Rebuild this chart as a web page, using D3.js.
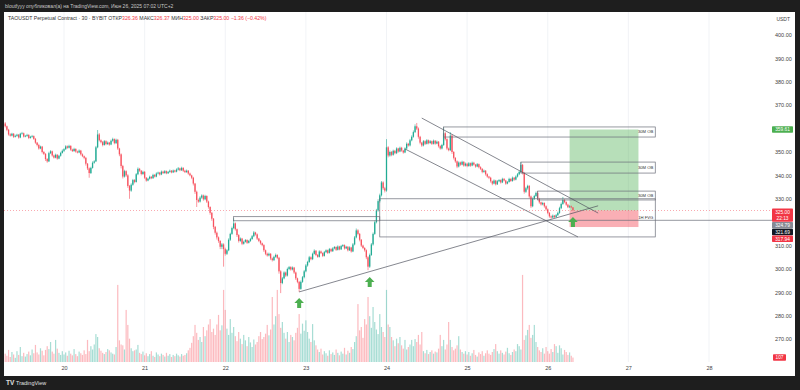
<!DOCTYPE html>
<html>
<head>
<meta charset="utf-8">
<script src="https://cdn.jsdelivr.net/npm/d3@7"></script>
<style>
  html, body { margin: 0; padding: 0; background: #1e1e1e; }
  svg { display: block; font-family: "Liberation Sans", Arial, sans-serif; }
</style>
</head>
<body>
<svg id="chart" width="800" height="390"></svg>
<script>
// 30m candles, TAOUSDT, one array per day: [close, upper wick, lower wick]
const firstOpen = 362.2;
const firstTime = "2025-06-19T06:30:00Z";
const jun19 = [[361.0,0.6,0.5],[359.5,0.3,0.6],[357.5,0.4,0.5],[357.0,0.5,0.4],[357.8,0.4,0.3],[356.5,0.3,0.5],[356.9,0.5,0.3],[357.4,0.4,0.4],[356.2,0.3,0.5],[357.8,0.4,0.3],[358.0,0.6,0.4],[356.6,0.3,0.4],[356.9,0.4,0.3],[357.3,0.5,0.4],[356.0,0.3,0.5],[356.5,0.4,0.3],[356.8,0.5,0.4],[355.6,0.3,0.4],[354.0,0.4,0.5],[353.0,0.3,0.6],[351.5,0.5,0.5],[352.3,0.4,0.3],[350.0,0.3,0.6],[349.2,0.4,0.5],[347.0,0.3,0.8],[346.0,0.4,0.6],[349.5,0.6,0.3],[350.3,0.5,0.4],[348.5,0.3,0.5],[347.6,0.4,0.4],[348.8,0.5,0.3],[347.2,0.3,0.5],[348.4,0.4,0.3],[349.6,0.5,0.4],[350.5,0.6,0.3]];
const jun20 = [[351.2,0.4,0.5],[352.4,0.5,0.3],[351.8,0.4,0.4],[352.6,0.5,0.3],[351.0,0.3,0.5],[350.4,0.4,0.4],[351.3,0.5,0.3],[350.2,0.3,0.5],[349.8,0.4,0.4],[350.6,0.5,0.3],[349.0,0.3,0.5],[348.2,0.4,0.4],[347.5,0.3,0.6],[345.0,0.4,0.8],[343.0,0.3,0.7],[341.0,0.4,2.0],[343.2,0.5,0.4],[345.4,0.6,0.3],[346.0,0.5,0.4],[352.0,0.6,0.3],[357.5,1.9,0.4],[355.0,0.6,0.5],[354.2,0.4,0.5],[353.0,0.5,0.6],[354.6,0.5,0.3],[353.4,0.4,0.5],[354.0,0.5,0.4],[353.2,0.3,0.5],[354.8,0.5,0.3],[355.5,0.6,0.4],[353.8,0.3,0.5],[355.2,0.5,0.4],[351.5,0.4,0.6],[349.0,0.3,0.8],[344.0,0.4,1.0],[339.5,0.5,0.8],[341.8,0.6,0.4],[340.0,0.4,0.6],[335.5,0.5,0.8],[333.5,0.4,3.5],[336.0,0.6,0.5],[338.0,0.5,0.4],[337.2,0.4,0.6],[340.5,0.5,0.3],[342.8,0.6,0.4],[342.0,0.4,0.5],[340.6,0.3,0.6],[341.5,0.5,0.4]];
const jun21 = [[339.0,0.4,0.5],[337.8,0.3,0.5],[338.6,0.4,0.3],[339.4,0.5,0.4],[338.8,0.3,0.4],[340.2,0.5,0.3],[339.5,0.4,0.4],[340.8,0.5,0.3],[341.2,0.4,0.4],[340.4,0.3,0.5],[341.6,0.5,0.3],[341.0,0.4,0.4],[341.8,0.5,0.3],[340.9,0.3,0.4],[341.5,0.4,0.3],[342.0,0.5,0.4],[341.3,0.3,0.4],[342.1,0.4,0.3],[341.6,0.3,0.4],[342.5,0.5,0.3],[343.0,0.6,0.4],[342.2,0.3,0.4],[343.2,0.5,0.3],[342.0,0.3,0.5],[341.4,0.4,0.4],[342.0,0.5,0.3],[340.8,0.3,0.5],[340.0,0.4,0.4],[339.0,0.3,0.6],[336.5,0.4,0.8],[333.0,0.3,0.9],[329.5,0.5,3.0],[328.8,0.6,0.5],[330.5,0.6,0.4],[331.4,0.5,0.5],[329.8,0.4,0.6],[331.2,0.5,0.4],[328.8,0.3,0.6],[326.5,0.4,0.7],[324.0,0.3,0.8],[321.5,0.4,0.9],[318.0,0.3,1.0],[315.5,0.4,0.8],[313.5,0.5,0.9],[312.0,0.4,0.8],[309.5,0.3,1.0],[310.5,0.6,1.0],[308.5,0.5,7.5]];
const jun22 = [[306.5,0.6,0.8],[308.0,0.5,0.5],[312.5,0.6,0.4],[315.0,0.5,0.5],[317.5,0.6,0.4],[319.5,2.2,0.5],[317.0,0.4,0.6],[314.5,0.3,0.8],[312.0,0.4,0.7],[313.0,0.5,0.4],[310.8,0.3,0.6],[311.6,0.5,0.4],[312.4,0.4,0.3],[311.2,0.3,0.5],[312.0,0.4,0.3],[312.8,0.5,0.4],[314.0,0.5,0.3],[315.6,0.6,0.4],[314.8,0.3,0.5],[313.0,0.4,0.6],[312.0,0.3,0.5],[311.0,0.4,0.6],[310.2,0.3,0.5],[308.0,0.4,0.7],[306.5,0.3,0.6],[305.8,0.5,0.5],[306.5,0.5,0.4],[304.5,0.3,0.7],[303.8,0.4,0.6],[305.2,0.5,0.4],[306.0,0.6,0.4],[304.8,0.3,0.6],[299.0,0.4,1.0],[294.0,0.5,4.3],[296.0,0.6,0.5],[298.5,0.5,0.4],[297.2,0.4,0.6],[300.0,0.6,0.4],[300.8,0.5,0.5],[299.8,0.4,0.5],[300.6,0.5,0.4],[298.5,0.3,0.6],[296.0,0.4,0.7],[294.5,0.3,0.6],[291.5,0.4,1.3],[294.5,0.6,0.4],[296.5,0.5,0.4],[299.0,0.6,0.5]];
const jun23 = [[301.5,0.6,0.4],[303.0,0.5,0.5],[305.0,0.6,0.4],[304.2,0.4,0.5],[306.5,0.5,0.4],[307.8,0.6,0.3],[306.0,0.3,0.5],[305.2,0.4,0.4],[307.5,0.5,0.3],[306.8,0.4,0.4],[305.6,0.3,0.5],[307.2,0.5,0.3],[308.0,0.4,0.4],[306.9,0.3,0.5],[308.5,0.5,0.3],[307.6,0.4,0.4],[308.8,0.5,0.3],[309.4,0.4,0.4],[308.2,0.3,0.5],[309.6,0.5,0.3],[308.4,0.3,0.4],[309.8,0.5,0.3],[310.2,0.4,0.4],[308.8,0.3,0.5],[309.5,0.4,0.3],[308.0,0.3,0.5],[309.2,0.5,0.3],[307.5,0.3,0.5],[310.5,0.6,0.3],[313.5,0.6,0.4],[316.5,0.8,0.4],[315.0,0.5,0.6],[312.5,0.4,0.7],[310.0,0.3,0.6],[309.0,0.4,0.5],[308.0,0.3,0.6],[305.0,0.4,0.8],[301.0,0.5,1.5],[306.0,0.6,0.5],[310.5,0.6,0.4],[315.0,0.6,0.5],[320.0,0.7,0.4],[325.0,0.7,0.5],[329.0,0.8,0.5],[331.5,0.7,0.6],[337.0,0.6,0.5],[334.5,0.5,0.7],[333.5,0.6,0.8]];
const jun24 = [[352.0,3.5,0.5],[348.5,0.5,0.8],[350.0,0.6,0.5],[348.8,0.4,0.6],[350.5,0.5,0.4],[349.5,0.4,0.5],[351.5,0.5,0.4],[350.2,0.3,0.5],[351.8,0.5,0.3],[350.6,0.4,0.5],[349.8,0.3,0.5],[351.5,0.5,0.3],[353.5,0.6,0.4],[352.8,0.4,0.5],[355.0,0.6,0.4],[356.5,0.6,0.4],[358.5,0.7,0.4],[361.0,0.8,0.4],[360.0,1.4,0.6],[356.5,0.5,0.8],[354.0,0.4,0.7],[352.8,0.3,0.6],[354.6,0.5,0.4],[353.5,0.4,0.5],[355.0,0.5,0.3],[353.8,0.3,0.5],[354.6,0.5,0.3],[353.5,0.3,0.5],[354.8,0.5,0.3],[353.6,0.3,0.5],[354.4,0.5,0.3],[352.5,0.3,0.6],[351.5,0.4,0.5],[353.0,0.5,0.4],[358.0,2.5,0.4],[355.5,0.5,0.6],[351.5,0.4,0.7],[350.8,0.4,0.5],[357.0,1.5,0.4],[350.0,0.5,0.8],[347.5,0.4,0.7],[346.0,0.3,0.6],[343.8,0.4,0.7],[345.5,0.5,0.4],[344.6,0.4,0.5],[345.8,0.5,0.3],[344.2,0.3,0.5],[345.0,0.5,0.4]];
const jun25 = [[344.0,0.4,0.5],[345.2,0.5,0.3],[344.2,0.3,0.5],[345.4,0.5,0.3],[344.6,0.4,0.4],[343.8,0.3,0.5],[344.8,0.5,0.3],[343.5,0.3,0.5],[342.8,0.4,0.5],[341.5,0.3,0.6],[342.0,0.5,0.4],[340.5,0.3,0.6],[339.5,0.4,0.5],[339.0,0.3,0.6],[337.5,0.4,0.6],[336.5,0.3,0.7],[337.8,0.5,0.3],[336.2,0.3,0.5],[337.5,0.5,0.3],[338.0,0.4,0.4],[337.0,0.3,0.5],[338.5,0.5,0.3],[337.8,0.4,0.4],[336.5,0.3,0.5],[337.2,0.4,0.3],[338.5,0.5,0.3],[337.6,0.3,0.4],[339.0,0.5,0.3],[338.2,0.3,0.5],[339.5,0.5,0.3],[340.5,0.5,0.4],[341.5,0.5,0.4],[344.5,1.2,0.4],[341.0,0.4,0.6],[333.0,0.5,0.8],[334.5,0.6,0.5],[335.5,0.5,0.6],[331.0,0.4,0.8],[326.8,0.4,0.7],[330.0,0.6,0.4],[331.2,0.5,0.5],[332.5,0.6,0.4],[330.0,0.8,0.5],[328.5,0.4,0.6],[327.6,0.3,0.5],[328.2,0.5,0.4],[326.8,0.3,0.6],[325.5,0.4,0.6]];
const jun26 = [[324.0,0.4,0.6],[322.5,0.3,0.6],[322.0,0.4,0.5],[322.8,0.5,0.3],[322.2,0.3,0.4],[323.0,0.5,0.3],[324.0,0.5,0.3],[326.0,0.6,0.4],[327.8,0.6,0.4],[329.5,1.3,0.4],[328.6,0.4,0.5],[327.5,0.3,0.5],[326.4,0.4,0.4],[326.8,0.5,0.3],[326.36,0.3,0.4],[325.00,0.01,0]];

// volume per candle, same order
const vol19 = [200,150,290,120,240,180,100,260,170,360,140,220,130,190,250,160,300,210,410,230,180,330,270,160,290,380,310,480,250,200,530,320,220,170,260];
const vol20 = [180,230,150,270,200,160,310,190,140,250,210,170,280,190,530,260,380,300,420,670,600,330,270,220,190,240,310,280,230,200,180,360,1850,520,420,400,300,1250,890,560,330,260,280,300,410,220,190,250];
const vol21 = [160,210,140,190,260,150,120,230,180,140,200,170,130,220,150,190,120,170,140,200,160,130,190,150,170,210,280,340,460,620,890,700,530,600,480,840,620,760,900,1030,720,800,650,900,1130,760,880,1730];
const vol22 = [1250,800,650,1030,700,840,620,500,720,560,430,650,520,380,600,470,360,540,420,480,620,720,550,600,680,890,640,780,1560,900,1100,1730,1150,820,960,700,560,720,480,650,600,520,700,820,1150,680,920,750];
const vol23 = [1000,720,560,480,910,520,400,300,240,320,180,260,210,150,280,190,230,170,300,220,160,250,200,340,180,270,220,360,310,480,620,1390,760,840,580,1030,900,1560,1100,820,1320,960,780,670,1150,840,720,600];
const vol24 = [1730,900,840,600,520,380,560,450,600,400,320,530,300,360,420,530,380,550,480,650,420,720,260,210,290,190,240,280,200,250,230,320,650,380,530,300,420,960,530,360,280,320,400,620,300,240,200,260];
const vol25 = [180,240,150,210,290,170,130,230,190,260,150,210,280,200,170,240,310,430,260,200,280,220,180,250,340,210,170,240,300,260,430,380,300,2090,530,640,770,890,580,650,890,480,360,280,240,330,200,360];
const vol26 = [260,200,310,240,430,380,220,400,330,180,290,240,170,230,150,107];

const priceTicks = [270, 280, 290, 300, 310, 320, 330, 340, 350, 360, 370, 380, 390, 400];
const hiddenTicks = [320, 360]; // covered by the price badges
const dayTicks = ["2025-06-20", "2025-06-21", "2025-06-22", "2025-06-23", "2025-06-24", "2025-06-25", "2025-06-26", "2025-06-27", "2025-06-28"];

// drawings: [time, price]
const trendUp = [["2025-06-22T22:00:00Z", 290.2], ["2025-06-26T15:00:00Z", 327.0]];
const channelTop = [["2025-06-24T10:30:00Z", 364.5], ["2025-06-26T15:00:00Z", 323.9]];
const channelBottom = [["2025-06-24T05:30:00Z", 351.3], ["2025-06-26T09:00:00Z", 313.7]];
const boxes = [
  { from: "2025-06-22T02:30:00Z", to: "2025-06-23T22:00:00Z", top: 322.35, bottom: 320.6, label: "" },
  { from: "2025-06-23T22:00:00Z", to: "2025-06-27T08:00:00Z", top: 330.0, bottom: 313.7, label: "1H FVG" },
  { from: "2025-06-24T17:00:00Z", to: "2025-06-27T08:00:00Z", top: 360.7, bottom: 356.4, label: "30M OB" },
  { from: "2025-06-25T16:00:00Z", to: "2025-06-27T08:00:00Z", top: 345.7, bottom: 341.0, label: "30M OB" },
  { from: "2025-06-25T21:00:00Z", to: "2025-06-27T08:00:00Z", top: 333.3, bottom: 329.5, label: "30M OB" }
];
const rayFrom = ["2025-06-23T22:00:00Z", 320.8];
const position = { from: "2025-06-26T06:30:00Z", to: "2025-06-27T03:00:00Z", entry: 325.00, target: 359.61, stop: 317.94 };
const arrows = [["2025-06-22T22:00:00Z", 287.6], ["2025-06-23T19:00:00Z", 296.6], ["2025-06-26T07:30:00Z", 322.2]];

const UP = '#22ab94', DOWN = '#f7525f';

const svg = d3.select('#chart');

// scales
const x = d3.scaleUtc()
  .domain([new Date("2025-06-20T00:00:00Z"), new Date("2025-06-28T00:00:00Z")])
  .range([64, 709]);
const y = d3.scaleLinear().domain([270, 400]).range([339.2, 35]);
const yv = d3.scaleLinear().domain([0, 2400]).range([362, 262]);

// build candles (open = previous close)
const t0 = new Date(firstTime).getTime();
const vols = [vol19, vol20, vol21, vol22, vol23, vol24, vol25, vol26].flat();
let prevClose = firstOpen;
const candles = [jun19, jun20, jun21, jun22, jun23, jun24, jun25, jun26].flat().map((d, i) => {
  const [c, wu, wd] = d;
  const o = prevClose;
  prevClose = c;
  return { t: new Date(t0 + i * 1800000), o, c, h: Math.max(o, c) + wu, l: Math.min(o, c) - wd, v: vols[i] };
});

// frame
svg.append('rect').attr('width', 800).attr('height', 390).attr('fill', '#1e1e1e');
svg.append('rect').attr('x', 4).attr('y', 12).attr('width', 791).attr('height', 364).attr('fill', '#fff');

svg.append('text').attr('x', 5).attr('y', 8).attr('font-size', 5).attr('fill', '#c8c8c8')
  .text('bloutfyyy опубликовал(а) на TradingView.com, Июн 26, 2025 07:02 UTC+2');

// day grid
svg.append('g').selectAll('line')
  .data(dayTicks)
  .enter()
  .append('line')
  .attr('x1', d => x(new Date(d + "T00:00:00Z")))
  .attr('x2', d => x(new Date(d + "T00:00:00Z")))
  .attr('y1', 12).attr('y2', 362)
  .attr('stroke', '#eef0f4').attr('stroke-width', 0.8);

// volume
svg.append('g').selectAll('rect')
  .data(candles)
  .enter()
  .append('rect')
  .attr('x', d => x(d.t) - 0.6)
  .attr('y', d => yv(d.v))
  .attr('width', 1.2)
  .attr('height', d => yv(0) - yv(d.v))
  .attr('fill', d => d.c >= d.o ? UP : DOWN)
  .attr('opacity', 0.4);

// position tool
const px1 = x(new Date(position.from)), px2 = x(new Date(position.to));
svg.append('rect').attr('x', px1).attr('width', px2 - px1)
  .attr('y', y(position.target)).attr('height', y(position.entry) - y(position.target))
  .attr('fill', '#4caf50').attr('opacity', 0.4);
svg.append('rect').attr('x', px1).attr('width', px2 - px1)
  .attr('y', y(position.entry)).attr('height', y(position.stop) - y(position.entry))
  .attr('fill', '#f23645').attr('opacity', 0.4);

// candles
const cg = svg.append('g');
cg.selectAll('.wick')
  .data(candles)
  .enter()
  .append('line')
  .attr('class', 'wick')
  .attr('x1', d => x(d.t)).attr('x2', d => x(d.t))
  .attr('y1', d => y(d.h)).attr('y2', d => y(d.l))
  .attr('stroke', d => d.c >= d.o ? UP : DOWN)
  .attr('stroke-width', 0.6);
cg.selectAll('.body')
  .data(candles)
  .enter()
  .append('rect')
  .attr('class', 'body')
  .attr('x', d => x(d.t) - 0.65)
  .attr('y', d => y(Math.max(d.o, d.c)))
  .attr('width', 1.3)
  .attr('height', d => Math.max(0.6, Math.abs(y(d.o) - y(d.c))))
  .attr('fill', d => d.c >= d.o ? UP : DOWN);

// last price line
svg.append('line').attr('x1', 4).attr('x2', 772)
  .attr('y1', y(325)).attr('y2', y(325))
  .attr('stroke', '#f23645').attr('stroke-width', 0.6)
  .attr('stroke-dasharray', '1,2').attr('opacity', 0.7);

// boxes
const bg = svg.append('g');
boxes.forEach(b => {
  const bx1 = x(new Date(b.from)), bx2 = x(new Date(b.to));
  bg.append('rect')
    .attr('x', bx1).attr('y', y(b.top))
    .attr('width', bx2 - bx1).attr('height', y(b.bottom) - y(b.top))
    .attr('fill', 'none').attr('stroke', '#6a6d78').attr('stroke-width', 0.7);
  if (b.label) {
    bg.append('text')
      .attr('x', bx2 - 2).attr('y', (y(b.top) + y(b.bottom)) / 2)
      .attr('dy', '0.35em').attr('text-anchor', 'end')
      .attr('font-size', 4.2).attr('fill', '#333')
      .text(b.label);
  }
});
svg.append('line')
  .attr('x1', x(new Date(rayFrom[0]))).attr('x2', 772)
  .attr('y1', y(rayFrom[1])).attr('y2', y(rayFrom[1]))
  .attr('stroke', '#6a6d78').attr('stroke-width', 0.7);

// trend lines
const line = d3.line().x(d => x(new Date(d[0]))).y(d => y(d[1]));
[trendUp, channelTop, channelBottom].forEach(l => {
  svg.append('path').attr('d', line(l))
    .attr('fill', 'none').attr('stroke', '#50535e').attr('stroke-width', 0.7);
});

// arrows
svg.append('g').selectAll('path')
  .data(arrows)
  .enter()
  .append('path')
  .attr('transform', d => `translate(${x(new Date(d[0]))},${y(d[1])})`)
  .attr('d', 'M0,0 L4.8,5 L2,5 L2,10 L-2,10 L-2,5 L-4.8,5 Z')
  .attr('fill', '#4caf50');

// legend
const legend = svg.append('text').attr('x', 8).attr('y', 20).attr('font-size', 5.2).attr('fill', '#333');
legend.append('tspan').text('TAOUSDT Perpetual Contract · 30 · BYBIT  ОТКР');
legend.append('tspan').attr('fill', '#f23645').text('326.36');
legend.append('tspan').text('  МАКС');
legend.append('tspan').attr('fill', '#f23645').text('326.37');
legend.append('tspan').text('  МИН');
legend.append('tspan').attr('fill', '#f23645').text('325.00');
legend.append('tspan').text('  ЗАКР');
legend.append('tspan').attr('fill', '#f23645').text('325.00');
legend.append('tspan').attr('fill', '#f23645').text('  −1.36 (−0.42%)');

// price axis
svg.append('g')
  .attr('transform', 'translate(772,0)')
  .call(d3.axisRight(y).tickValues(priceTicks.filter(p => !hiddenTicks.includes(p))).tickSize(0).tickPadding(3).tickFormat(d3.format('.2f')))
  .call(g => g.select('.domain').remove())
  .call(g => g.selectAll('text').attr('font-size', 5.5).attr('fill', '#444').attr('font-family', '"Liberation Sans", Arial, sans-serif'));

svg.append('text').attr('x', 790).attr('y', 21).attr('text-anchor', 'end')
  .attr('font-size', 5).attr('fill', '#444').text('USDT');

// time axis
svg.append('g')
  .attr('transform', 'translate(0,363)')
  .call(d3.axisBottom(x).tickValues(dayTicks.map(d => new Date(d + "T00:00:00Z"))).tickSize(0).tickPadding(3).tickFormat(d3.utcFormat('%-d')))
  .call(g => g.select('.domain').remove())
  .call(g => g.selectAll('text').attr('font-size', 5.5).attr('fill', '#444').attr('font-family', '"Liberation Sans", Arial, sans-serif'));

// price badges
function badge(top, h, fill, lines) {
  svg.append('rect').attr('x', 772).attr('y', top).attr('width', 21).attr('height', h).attr('fill', fill).attr('rx', 0.8);
  lines.forEach((t, k) => {
    svg.append('text').attr('x', 782.5).attr('y', top + 3.4 + k * 6.3).attr('dy', '0.35em')
      .attr('text-anchor', 'middle').attr('font-size', 4.8).attr('fill', '#fff').text(t);
  });
}
badge(y(position.target) - 3.3, 6.6, '#4caf50', [d3.format('.2f')(position.target)]);
const b0 = y(325) - 2;
badge(b0, 13.2, '#f23645', ['325.00', '22:13']);
badge(b0 + 13.4, 6.6, '#868993', ['324.79']);
badge(b0 + 20.2, 6.6, '#131722', ['321.69']);
badge(b0 + 27.0, 6.6, '#f23645', [d3.format('.2f')(position.stop)]);
svg.append('rect').attr('x', 773).attr('y', yv(107) - 3.3).attr('width', 13).attr('height', 6.6).attr('fill', '#f23645').attr('rx', 0.8);
svg.append('text').attr('x', 779.5).attr('y', yv(107)).attr('dy', '0.35em').attr('text-anchor', 'middle')
  .attr('font-size', 4.8).attr('fill', '#fff').text('107');

// footer logo
svg.append('text').attr('x', 6).attr('y', 385).attr('font-size', 6.5).attr('font-weight', 900).attr('fill', '#e0e0e0').text('TV');
svg.append('text').attr('x', 16).attr('y', 385).attr('font-size', 5.5).attr('fill', '#e0e0e0').text('TradingView');
</script>
</body>
</html>
